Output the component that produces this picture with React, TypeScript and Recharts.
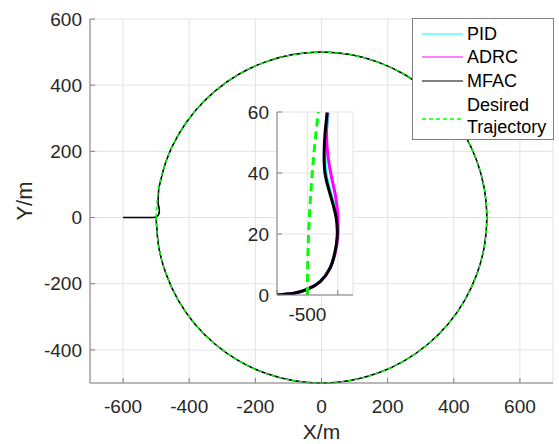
import { CartesianGrid, Line, LineChart, XAxis, YAxis } from "recharts";

const FONT = "'Liberation Sans', Arial, Helvetica, sans-serif";
const AXIS = "#808080";
const GRID = "#e3e3e3";
const TEXT = "#262626";

const X_TICKS = [-600, -400, -200, 0, 200, 400, 600];
const Y_TICKS = [-400, -200, 0, 200, 400, 600];
const INSET_X_TICKS = [-510, -500, -490];
const INSET_Y_TICKS = [0, 20, 40, 60];

// desired circle, r = 500, sampled every 10 degrees starting at (-500, 0)
const CIRCLE = [
  { x: -500, y: 0 }, { x: -492.4, y: 86.8 }, { x: -469.8, y: 171 }, { x: -433, y: 250 },
  { x: -383, y: 321.4 }, { x: -321.4, y: 383 }, { x: -250, y: 433 }, { x: -171, y: 469.8 },
  { x: -86.8, y: 492.4 }, { x: 0, y: 500 }, { x: 86.8, y: 492.4 }, { x: 171, y: 469.8 },
  { x: 250, y: 433 }, { x: 321.4, y: 383 }, { x: 383, y: 321.4 }, { x: 433, y: 250 },
  { x: 469.8, y: 171 }, { x: 492.4, y: 86.8 }, { x: 500, y: 0 }, { x: 492.4, y: -86.8 },
  { x: 469.8, y: -171 }, { x: 433, y: -250 }, { x: 383, y: -321.4 }, { x: 321.4, y: -383 },
  { x: 250, y: -433 }, { x: 171, y: -469.8 }, { x: 86.8, y: -492.4 }, { x: 0, y: -500 },
  { x: -86.8, y: -492.4 }, { x: -171, y: -469.8 }, { x: -250, y: -433 }, { x: -321.4, y: -383 },
  { x: -383, y: -321.4 }, { x: -433, y: -250 }, { x: -469.8, y: -171 }, { x: -492.4, y: -86.8 },
  { x: -500, y: 0 },
];
const DESIRED_INSET = [
  { x: -500, y: 0 }, { x: -499.9, y: 10 }, { x: -499.6, y: 20 }, { x: -499.1, y: 30 },
  { x: -498.4, y: 40 }, { x: -497.5, y: 50 }, { x: -496.4, y: 60 },
];

const START = [{ x: -600, y: 0 }];
const MFAC = [
  { x: -510, y: 0 }, { x: -504.4, y: 0.55 }, { x: -499.9, y: 1.9 }, { x: -495.8, y: 4.4 },
  { x: -492.6, y: 8.7 }, { x: -491, y: 13.7 }, { x: -490.2, y: 19.1 }, { x: -490.6, y: 25.7 },
  { x: -492.6, y: 33.3 }, { x: -494.2, y: 39.9 }, { x: -494.5, y: 46.5 }, { x: -494.2, y: 53 },
  { x: -493.5, y: 59.8 },
];
const ADRC = [
  { x: -510, y: 0 }, { x: -504.4, y: 0.55 }, { x: -499.9, y: 1.9 }, { x: -495.8, y: 4.4 },
  { x: -492.6, y: 8.7 }, { x: -490.9, y: 13.7 }, { x: -490, y: 19.1 }, { x: -490, y: 25.7 },
  { x: -490.7, y: 32.2 }, { x: -492.1, y: 38.8 }, { x: -493.2, y: 45.3 }, { x: -493.7, y: 51.9 },
  { x: -493.5, y: 59.8 },
];
const PID = [
  { x: -510, y: 0 }, { x: -504.4, y: 0.55 }, { x: -499.9, y: 1.9 }, { x: -495.8, y: 4.4 },
  { x: -492.6, y: 8.7 }, { x: -491, y: 13.7 }, { x: -490.2, y: 19.1 }, { x: -490.5, y: 25.7 },
  { x: -492.3, y: 33.3 }, { x: -493.9, y: 39.9 }, { x: -494.2, y: 46.5 }, { x: -493.8, y: 53 },
  { x: -493.1, y: 59.8 },
];

const SERIES = [
  { name: "PID", data: PID, color: "#00ffff", width: 1 },
  { name: "ADRC", data: ADRC, color: "#ff00ff", width: 1 },
  { name: "MFAC", data: MFAC, color: "#000000", width: 1.5 },
];

const tickStyle = { fontSize: 19, fill: TEXT, fontFamily: FONT };

function YLabel(props: any) {
  const vb = props.viewBox || { x: 0, y: 19, width: 90, height: 364 };
  const cx = vb.x + 24;
  const cy = vb.y + vb.height / 2;
  return (
    <text
      transform={`translate(${cx},${cy}) rotate(-90)`}
      textAnchor="middle"
      dominantBaseline="central"
      fontSize={22}
      fill={TEXT}
      fontFamily={FONT}
    >
      Y/m
    </text>
  );
}

function Legend() {
  const rows = [
    { label: "PID", y: 16, color: "#00ffff" },
    { label: "ADRC", y: 39, color: "#ff00ff" },
    { label: "MFAC", y: 63, color: "#000000" },
  ];
  return (
    <svg
      width={142}
      height={122}
      style={{ position: "absolute", left: 412, top: 18 }}
    >
      <rect x={0.5} y={0.5} width={141} height={121} fill="#fff" stroke={AXIS} />
      {rows.map((r) => (
        <g key={r.label}>
          <line x1={10} x2={51} y1={r.y} y2={r.y} stroke={r.color} strokeWidth={1} />
          <text x={55} y={r.y} dominantBaseline="central" fontSize={18} fill="#000" fontFamily={FONT}>
            {r.label}
          </text>
        </g>
      ))}
      <line x1={10} x2={51} y1={101} y2={101} stroke="#00ff00" strokeWidth={1.5} strokeDasharray="4 3" />
      <text x={55} y={87} dominantBaseline="central" fontSize={18} fill="#000" fontFamily={FONT}>
        Desired
      </text>
      <text x={55} y={109} dominantBaseline="central" fontSize={18} fill="#000" fontFamily={FONT}>
        Trajectory
      </text>
    </svg>
  );
}

function Inset() {
  return (
    <div style={{ position: "absolute", left: 245, top: 100 }}>
      <LineChart
        width={112}
        height={230}
        margin={{ top: 12, right: 4, bottom: 0, left: 0 }}
        style={{ overflow: "visible" }}
      >
        <CartesianGrid stroke={GRID} fill="#fff" />
        <XAxis
          type="number"
          dataKey="x"
          domain={[-510, -485]}
          allowDataOverflow
          ticks={INSET_X_TICKS}
          tickFormatter={(v: number) => (v === -500 ? "-500" : "")}
          height={35}
          tickSize={-5}
          tickMargin={18}
          stroke={AXIS}
          tick={tickStyle}
        />
        <YAxis
          type="number"
          dataKey="y"
          domain={[0, 60]}
          allowDataOverflow
          ticks={INSET_Y_TICKS}
          width={32}
          tickSize={-5}
          tickMargin={13}
          stroke={AXIS}
          tick={tickStyle}
        />
        <XAxis xAxisId="top" orientation="top" type="number" domain={[-510, -485]} ticks={INSET_X_TICKS} height={0} tick={false} tickSize={-5} stroke={AXIS} />
        <YAxis yAxisId="right" orientation="right" type="number" domain={[0, 60]} ticks={INSET_Y_TICKS} width={0} tick={false} tickSize={-5} stroke={AXIS} />
        {SERIES.map((s) => (
          <Line
            key={s.name}
            data={s.data}
            dataKey="y"
            type="natural"
            stroke={s.color}
            strokeWidth={3}
            dot={false}
            isAnimationActive={false}
          />
        ))}
        <Line
          data={DESIRED_INSET}
          dataKey="y"
          type="natural"
          stroke="#00ff00"
          strokeWidth={3}
          strokeDasharray="8 5"
          dot={false}
          isAnimationActive={false}
        />
      </LineChart>
    </div>
  );
}

export default function App() {
  return (
    <div style={{ position: "absolute", left: 0, top: 0, width: 559, height: 444, background: "#fff", fontFamily: FONT }}>
      <LineChart width={559} height={444} margin={{ top: 19, right: 6, bottom: 0, left: 0 }}>
        <CartesianGrid stroke={GRID} />
        <XAxis
          type="number"
          dataKey="x"
          domain={[-700, 700]}
          ticks={X_TICKS}
          height={61}
          tickSize={-5}
          tickMargin={22}
          stroke={AXIS}
          tick={tickStyle}
          label={{ value: "X/m", position: "insideBottom", offset: 5, fontSize: 21, fill: TEXT, fontFamily: FONT }}
        />
        <YAxis
          type="number"
          dataKey="y"
          domain={[-500, 600]}
          ticks={Y_TICKS}
          width={90}
          tickSize={-5}
          tickMargin={13}
          stroke={AXIS}
          tick={tickStyle}
          label={{ value: "Y/m", content: YLabel }}
        />
        <XAxis xAxisId="top" orientation="top" type="number" domain={[-700, 700]} ticks={X_TICKS} height={0} tick={false} tickSize={-5} stroke={AXIS} />
        <YAxis yAxisId="right" orientation="right" type="number" domain={[-500, 600]} ticks={Y_TICKS} width={0} tick={false} tickSize={-5} stroke={AXIS} />
        {SERIES.map((s) => (
          <Line
            key={s.name + "-start"}
            data={[...START, ...s.data, CIRCLE[1]]}
            dataKey="y"
            type="linear"
            stroke={s.color}
            strokeWidth={s.width}
            dot={false}
            isAnimationActive={false}
          />
        ))}
        {SERIES.map((s) => (
          <Line
            key={s.name + "-arc"}
            data={CIRCLE.slice(1)}
            dataKey="y"
            type="natural"
            stroke={s.color}
            strokeWidth={s.width}
            dot={false}
            isAnimationActive={false}
          />
        ))}
        <Line
          data={CIRCLE}
          dataKey="y"
          type="natural"
          stroke="#00ff00"
          strokeWidth={1.5}
          strokeDasharray="4 3"
          dot={false}
          isAnimationActive={false}
        />
      </LineChart>
      <Inset />
      <Legend />
    </div>
  );
}
